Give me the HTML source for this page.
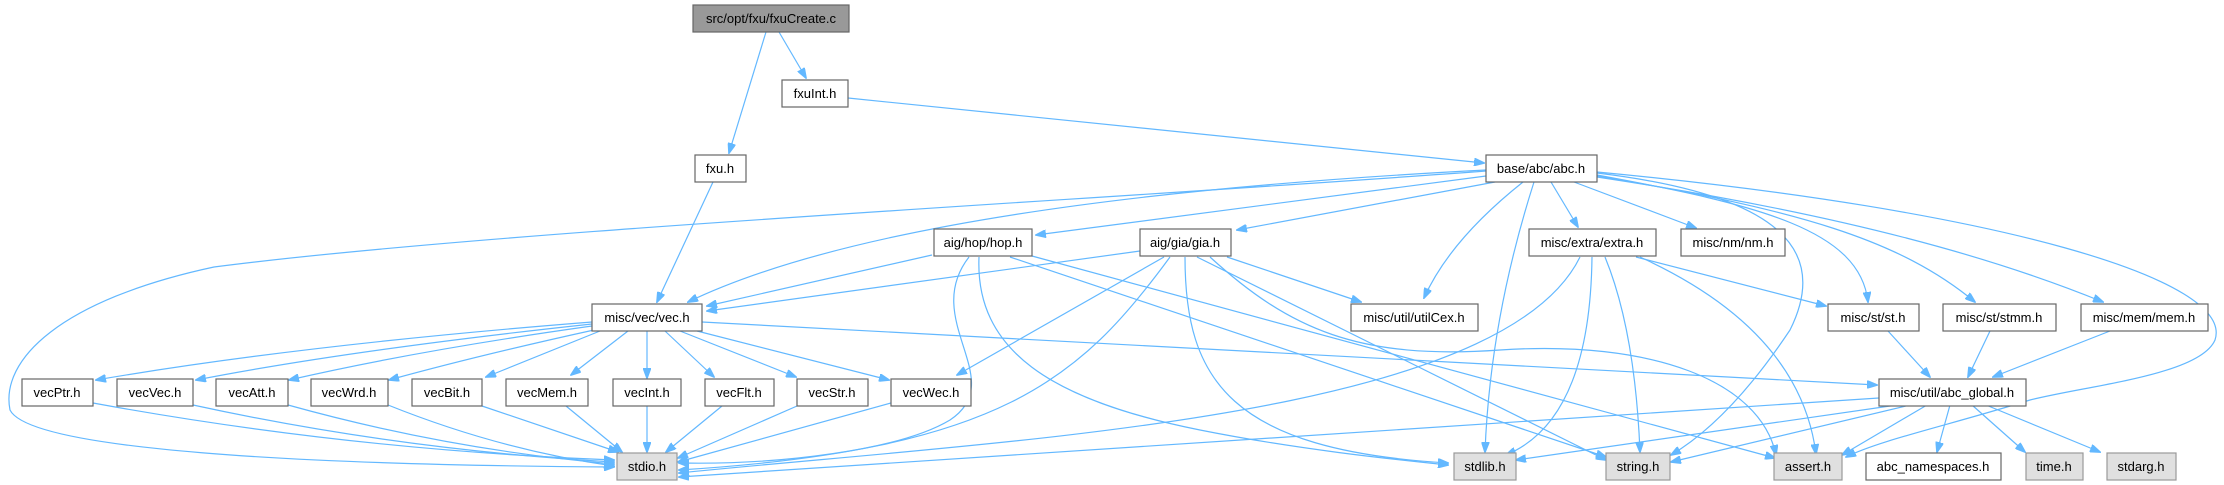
<!DOCTYPE html>
<html><head><meta charset="utf-8"><style>
html,body{margin:0;padding:0;background:#fff;}
svg{display:block;}
text{font-family:"Liberation Sans",Arial,sans-serif;font-size:13px;fill:#000;}
.n{fill:#fff;stroke:#666;stroke-width:1.2;}
.g{fill:#e0e0e0;stroke:#999;stroke-width:1.2;}
.r{fill:#999;stroke:#666;stroke-width:1.2;}
path{fill:none;stroke:#63b8ff;stroke-width:1.2;}
</style></head><body>
<svg width="2224" height="485" viewBox="0 0 2224 485" xmlns="http://www.w3.org/2000/svg">
<defs><marker id="a" markerWidth="11" markerHeight="8" refX="10" refY="4" orient="auto" markerUnits="userSpaceOnUse"><path d="M0,0 L11,4 L0,8 Z" style="fill:#63b8ff;stroke:#63b8ff;stroke-width:1"/></marker></defs>
<g marker-end="url(#a)">
<path d="M766,32 L729,153"/>
<path d="M779,32 L806,78"/>
<path d="M848,98 L1484,163"/>
<path d="M713,182 L657,302"/>
<path d="M1486,170 Q900,200 688,302"/>
<path d="M1486,171 C1100,200 500,230 214,267 C60,300 0,360 10,410 C30,450 300,465 614,467"/>
<path d="M1486,176 L1036,235"/>
<path d="M1495,182 L1237,230"/>
<path d="M1523,182 Q1450,240 1424,298"/>
<path d="M1534,182 Q1490,320 1485,452"/>
<path d="M1551,182 L1578,227"/>
<path d="M1574,182 L1696,228"/>
<path d="M1597,173 C1780,195 1830,250 1790,330 Q1730,420 1671,455"/>
<path d="M1597,175 C1760,205 1860,230 1868,302"/>
<path d="M1597,176 C1800,210 1900,240 1975,302"/>
<path d="M1597,177 C1850,215 2000,260 2103,302"/>
<path d="M1597,172 C2000,210 2235,280 2215,340 C2200,375 2090,385 2030,400 C1950,425 1880,440 1846,457"/>
<path d="M932,255 L707,306"/>
<path d="M969,257 C920,320 1010,380 950,420 C900,450 780,465 679,463"/>
<path d="M979,257 C975,350 1050,400 1200,430 C1300,450 1400,460 1448,465"/>
<path d="M1010,257 L1606,457"/>
<path d="M1032,256 L1775,458"/>
<path d="M1140,251 L707,311"/>
<path d="M1164,257 L957,375"/>
<path d="M1170,257 C1080,380 1000,450 679,470"/>
<path d="M1185,257 C1185,380 1230,450 1448,463"/>
<path d="M1197,257 L1606,460"/>
<path d="M1227,257 L1361,302"/>
<path d="M1210,257 C1290,330 1360,360 1500,350 C1650,340 1760,380 1776,455"/>
<path d="M1580,257 C1500,420 1000,440 679,473"/>
<path d="M1592,257 Q1590,420 1506,455"/>
<path d="M1605,257 Q1635,330 1640,452"/>
<path d="M1636,257 L1826,306"/>
<path d="M1640,257 Q1800,330 1816,454"/>
<path d="M1888,331 L1930,377"/>
<path d="M1990,331 L1968,377"/>
<path d="M2110,331 L1993,377"/>
<path d="M702,322 L1877,385"/>
<path d="M1879,398 L679,477"/>
<path d="M1897,405 L1516,460"/>
<path d="M1910,405 L1671,462"/>
<path d="M1927,405 L1842,455"/>
<path d="M1950,405 L1937,452"/>
<path d="M1972,405 L2025,452"/>
<path d="M1986,405 L2100,452"/>
<path d="M592,322 Q300,345 96,380"/>
<path d="M592,324 Q350,350 196,380"/>
<path d="M592,326 Q420,350 289,380"/>
<path d="M594,330 Q480,355 389,380"/>
<path d="M600,331 L486,377"/>
<path d="M628,331 L571,375"/>
<path d="M647,331 L647,378"/>
<path d="M665,331 L714,377"/>
<path d="M680,331 L796,377"/>
<path d="M697,331 L889,380"/>
<path d="M93,403 Q350,450 614,460"/>
<path d="M193,405 Q400,450 614,462"/>
<path d="M288,405 Q450,450 614,464"/>
<path d="M388,405 Q500,450 614,466"/>
<path d="M482,406 L618,452"/>
<path d="M566,406 L622,452"/>
<path d="M647,406 L647,452"/>
<path d="M722,406 L666,452"/>
<path d="M797,406 L678,458"/>
<path d="M891,403 L678,462"/>
</g>
<g>
<rect class="r" x="693" y="5" width="156" height="27"/><text x="771" y="23" text-anchor="middle">src/opt/fxu/fxuCreate.c</text>
<rect class="n" x="782" y="80" width="66" height="27"/><text x="815" y="98" text-anchor="middle">fxuInt.h</text>
<rect class="n" x="695" y="155" width="51" height="27"/><text x="720" y="173" text-anchor="middle">fxu.h</text>
<rect class="n" x="1486" y="155" width="111" height="27"/><text x="1541" y="173" text-anchor="middle">base/abc/abc.h</text>
<rect class="n" x="934" y="229" width="98" height="27"/><text x="983" y="247" text-anchor="middle">aig/hop/hop.h</text>
<rect class="n" x="1140" y="229" width="91" height="27"/><text x="1185" y="247" text-anchor="middle">aig/gia/gia.h</text>
<rect class="n" x="1529" y="229" width="127" height="27"/><text x="1592" y="247" text-anchor="middle">misc/extra/extra.h</text>
<rect class="n" x="1681" y="229" width="104" height="27"/><text x="1733" y="247" text-anchor="middle">misc/nm/nm.h</text>
<rect class="n" x="592" y="304" width="110" height="27"/><text x="647" y="322" text-anchor="middle">misc/vec/vec.h</text>
<rect class="n" x="1351" y="304" width="127" height="27"/><text x="1414" y="322" text-anchor="middle">misc/util/utilCex.h</text>
<rect class="n" x="1828" y="304" width="91" height="27"/><text x="1873" y="322" text-anchor="middle">misc/st/st.h</text>
<rect class="n" x="1943" y="304" width="113" height="27"/><text x="1999" y="322" text-anchor="middle">misc/st/stmm.h</text>
<rect class="n" x="2081" y="304" width="127" height="27"/><text x="2144" y="322" text-anchor="middle">misc/mem/mem.h</text>
<rect class="n" x="22" y="379" width="71" height="27"/><text x="57" y="397" text-anchor="middle">vecPtr.h</text>
<rect class="n" x="117" y="379" width="76" height="27"/><text x="155" y="397" text-anchor="middle">vecVec.h</text>
<rect class="n" x="216" y="379" width="72" height="27"/><text x="252" y="397" text-anchor="middle">vecAtt.h</text>
<rect class="n" x="311" y="379" width="77" height="27"/><text x="349" y="397" text-anchor="middle">vecWrd.h</text>
<rect class="n" x="412" y="379" width="70" height="27"/><text x="447" y="397" text-anchor="middle">vecBit.h</text>
<rect class="n" x="506" y="379" width="82" height="27"/><text x="547" y="397" text-anchor="middle">vecMem.h</text>
<rect class="n" x="613" y="379" width="68" height="27"/><text x="647" y="397" text-anchor="middle">vecInt.h</text>
<rect class="n" x="705" y="379" width="69" height="27"/><text x="739" y="397" text-anchor="middle">vecFlt.h</text>
<rect class="n" x="797" y="379" width="71" height="27"/><text x="832" y="397" text-anchor="middle">vecStr.h</text>
<rect class="n" x="891" y="379" width="80" height="27"/><text x="931" y="397" text-anchor="middle">vecWec.h</text>
<rect class="n" x="1879" y="379" width="147" height="27"/><text x="1952" y="397" text-anchor="middle">misc/util/abc_global.h</text>
<rect class="g" x="617" y="453" width="60" height="27"/><text x="647" y="471" text-anchor="middle">stdio.h</text>
<rect class="g" x="1454" y="453" width="62" height="27"/><text x="1485" y="471" text-anchor="middle">stdlib.h</text>
<rect class="g" x="1606" y="453" width="64" height="27"/><text x="1638" y="471" text-anchor="middle">string.h</text>
<rect class="g" x="1774" y="453" width="68" height="27"/><text x="1808" y="471" text-anchor="middle">assert.h</text>
<rect class="n" x="1866" y="453" width="135" height="27"/><text x="1933" y="471" text-anchor="middle">abc_namespaces.h</text>
<rect class="g" x="2026" y="453" width="57" height="27"/><text x="2054" y="471" text-anchor="middle">time.h</text>
<rect class="g" x="2107" y="453" width="69" height="27"/><text x="2141" y="471" text-anchor="middle">stdarg.h</text>
</g>
</svg>
</body></html>
